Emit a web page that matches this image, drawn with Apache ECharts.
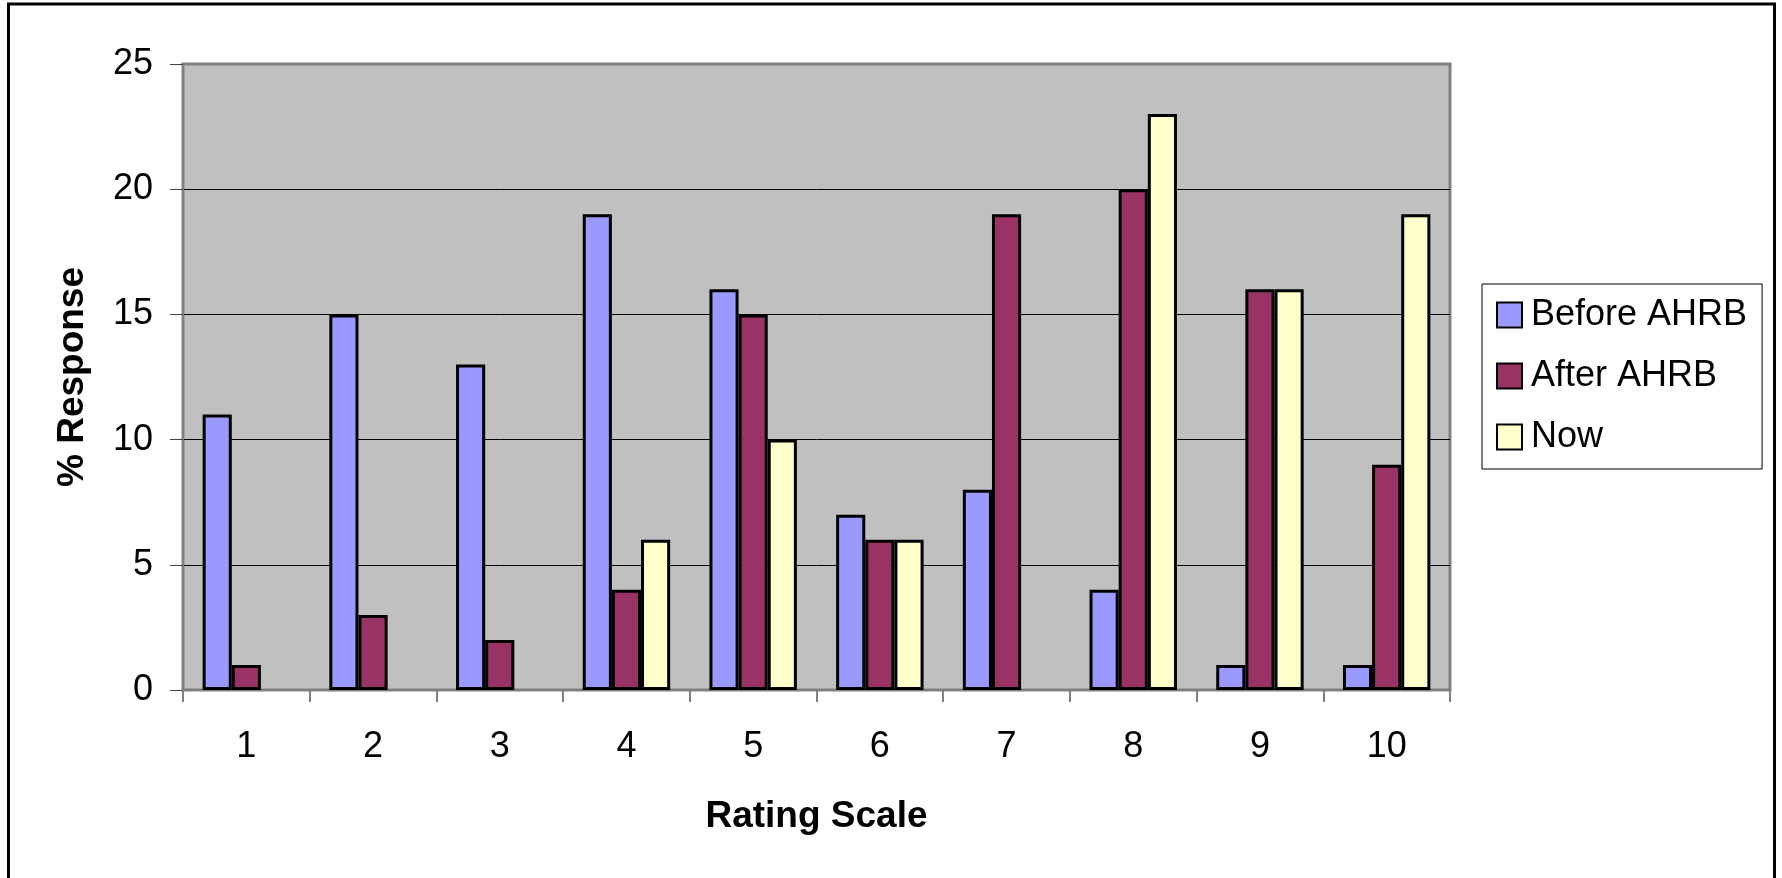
<!DOCTYPE html>
<html>
<head>
<meta charset="utf-8">
<script src="https://cdn.jsdelivr.net/npm/echarts@6/dist/echarts.min.js"></script>
<style>
html,body{margin:0;padding:0;background:#fff;}
#chart{width:1782px;height:878px;}
</style>
</head>
<body>
<div id="chart"></div>
<script>
const categories = ['1','2','3','4','5','6','7','8','9','10'];
const beforeAHRB = [11, 15, 13, 19, 16, 7, 8, 4, 1, 1];
const afterAHRB  = [1, 3, 2, 4, 15, 6, 19, 20, 16, 9];
const now        = [null, null, null, 6, 10, 6, null, 23, 16, 19];
const seriesNames = ['Before AHRB', 'After AHRB', 'Now'];
const yTitle = '% Response';
const xTitle = 'Rating Scale';

const FONT = "'Liberation Sans', Arial, sans-serif";
const chart = echarts.init(document.getElementById('chart'), null, {renderer: 'canvas'});

function bar(name, data, color) {
  return {
    name: name, type: 'bar', data: data,
    barGap: '0%', barCategoryGap: '31%',
    itemStyle: {color: color, borderColor: '#000', borderWidth: 3},
    emphasis: {disabled: true}
  };
}

chart.setOption({
  animation: false,
  backgroundColor: '#fff',
  textStyle: {fontFamily: FONT},
  graphic: [{
    type: 'rect', z: 100, silent: true,
    shape: {x: 8.5, y: 4, width: 1766, height: 920},
    style: {fill: 'none', stroke: '#000', lineWidth: 3}
  }],
  grid: {
    left: 183, right: 332, top: 64, bottom: 188,
    show: true, backgroundColor: '#C0C0C0', borderColor: '#808080', borderWidth: 3
  },
  legend: {
    orient: 'vertical', left: 1482, top: 284,
    data: seriesNames,
    backgroundColor: '#fff', borderColor: '#000', borderWidth: 1,
    padding: [11, 15, 12, 14],
    itemGap: 21, itemWidth: 25, itemHeight: 25,
    icon: 'rect',
    itemStyle: {borderColor: '#000', borderWidth: 2},
    textStyle: {fontFamily: FONT, fontSize: 36, color: '#000', lineHeight: 40, padding: [0, 0, 0, 4]}
  },
  xAxis: {
    type: 'category', data: categories,
    name: xTitle, nameLocation: 'middle', nameGap: 108,
    nameTextStyle: {fontFamily: FONT, fontSize: 37, fontWeight: 'bold', color: '#000'},
    axisLine: {lineStyle: {color: '#808080', width: 2}},
    axisTick: {show: true, length: 12, lineStyle: {color: '#808080', width: 2}},
    axisLabel: {fontFamily: FONT, fontSize: 36, color: '#000', margin: 39}
  },
  yAxis: {
    type: 'value', min: 0, max: 25, interval: 5,
    name: yTitle, nameLocation: 'middle', nameGap: 92, nameRotate: 90,
    nameTextStyle: {fontFamily: FONT, fontSize: 37, fontWeight: 'bold', color: '#000'},
    axisLine: {show: true, lineStyle: {color: '#808080', width: 2}},
    axisTick: {show: true, length: 13, lineStyle: {color: '#404040', width: 1}},
    axisLabel: {fontFamily: FONT, fontSize: 36, color: '#000', margin: 30},
    splitLine: {show: true, lineStyle: {color: ['#000','#000','#000','#000','#000','#808080'], width: 1}}
  },
  series: [
    bar(seriesNames[0], beforeAHRB, '#9999FF'),
    bar(seriesNames[1], afterAHRB, '#993366'),
    bar(seriesNames[2], now, '#FFFFCC')
  ]
});
</script>
</body>
</html>
